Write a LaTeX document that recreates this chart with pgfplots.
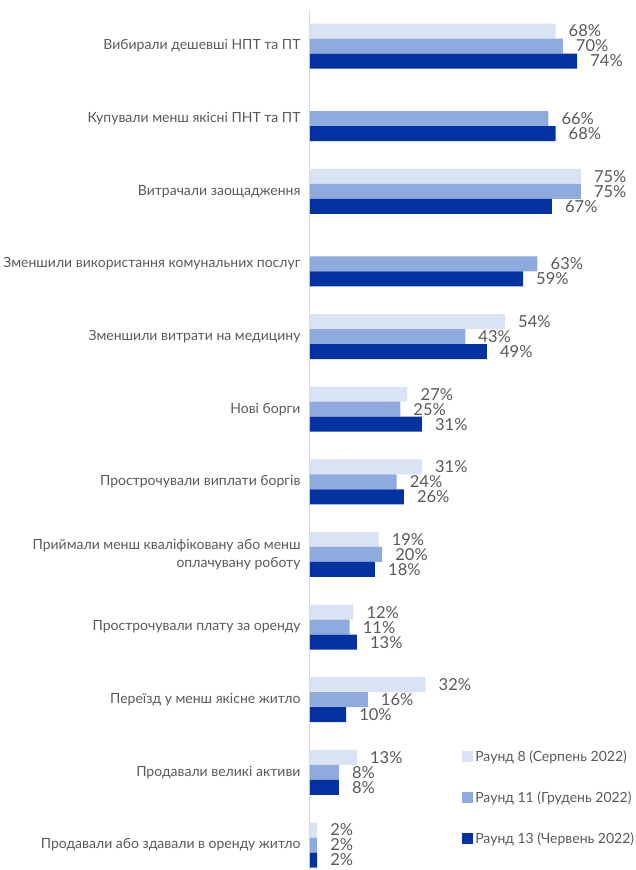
\documentclass[border=0pt]{standalone}
\usepackage{pgfplots}
\pgfplotsset{compat=1.18}
\usepackage{fontspec}
\setmainfont{Lato}
\definecolor{cA}{HTML}{DAE3F3}
\definecolor{cB}{HTML}{8FAADC}
\definecolor{cC}{HTML}{0432A0}
\definecolor{txt}{HTML}{595959}
\definecolor{axl}{HTML}{D9D9D9}
\begin{document}
\begin{tikzpicture}
\useasboundingbox (-310pt,0pt) rectangle (326pt,870pt);
\begin{axis}[
  at={(0pt,0pt)}, anchor=south west,
  scale only axis, width=325pt, height=860pt,
  xmin=0, xmax=90, ymin=-0.344, ymax=11.496,
  xbar, bar width=15pt,
  axis x line=none, axis y line*=left,
  y axis line style={axl, line width=1pt},
  ytick={0,...,11}, major tick length=0pt,
  yticklabels={
    Продавали або здавали в оренду житло,
    Продавали великі активи,
    Переїзд у менш якісне житло,
    Прострочували плату за оренду,
    {Приймали менш кваліфіковану або менш\\оплачувану роботу},
    Прострочували виплати боргів,
    Нові борги,
    Зменшили витрати на медицину,
    Зменшили використання комунальних послуг,
    Витрачали заощадження,
    Купували менш якісні ПНТ та ПТ,
    Вибирали дешевші НПТ та ПТ},
  yticklabel style={font=\fontsize{14}{18}\selectfont, text=txt, align=right, xshift=-6pt},
  /pgf/number format/assume math mode=true,
  nodes near coords={\pgfmathprintnumber{\pgfplotspointmeta}\%},
  nodes near coords style={anchor=west, xshift=12pt, font=\fontsize{16.5}{17}\selectfont, text=txt, inner sep=1pt},
  legend cell align=left,
  legend style={draw=none, fill=none, at={(rel axis cs:0.468,0.1415)}, anchor=north west,
    font=\fontsize{14}{16}\selectfont, text=txt, row sep=24.5pt, inner sep=0pt,
    nodes={inner sep=2pt}},
  legend image code/.code={\fill[#1,draw=none] (0pt,-5.5pt) rectangle (11pt,5.5pt);},
  clip=false,
]
\addplot[fill=cA, draw=none, bar shift=15pt] coordinates {
 (68,11) (75,9) (54,7) (27,6) (31,5) (19,4) (12,3) (32,2) (13,1) (2,0)};
\addplot[fill=cB, draw=none, bar shift=0pt] coordinates {
 (70,11) (66,10) (75,9) (63,8) (43,7) (25,6) (24,5) (20,4) (11,3) (16,2) (8,1) (2,0)};
\addplot[fill=cC, draw=none, bar shift=-15pt] coordinates {
 (74,11) (68,10) (67,9) (59,8) (49,7) (31,6) (26,5) (18,4) (13,3) (10,2) (8,1) (2,0)};
\legend{Раунд 8 (Серпень 2022), Раунд 11 (Грудень 2022), Раунд 13 (Червень 2022)}
\end{axis}
\end{tikzpicture}
\end{document}
